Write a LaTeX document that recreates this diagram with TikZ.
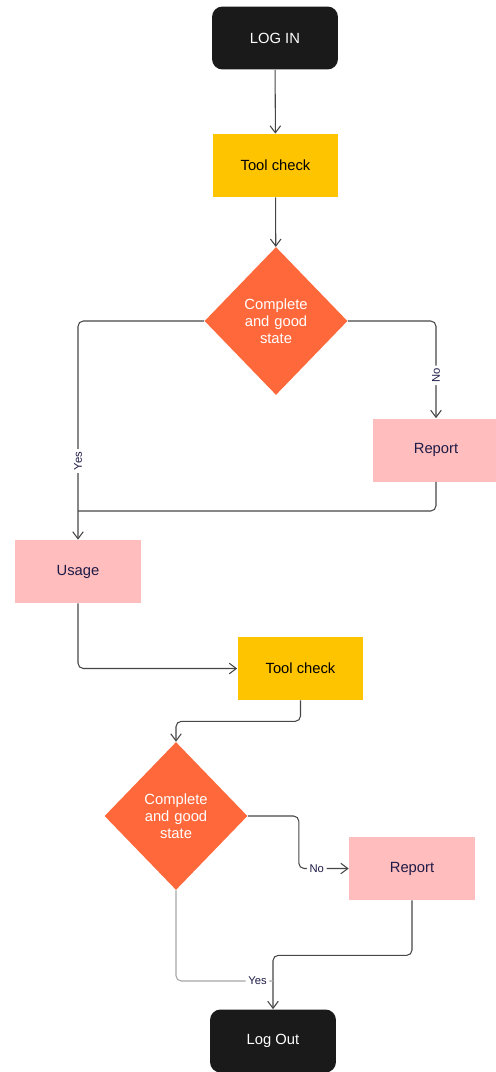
\documentclass[tikz,border=0pt]{standalone}
\usepackage{fontspec}
\setmainfont{Liberation Sans}
\usepackage{xcolor}
\usepackage{tikz}
\usetikzlibrary{arrows.meta, positioning, shapes.geometric, calc}
\definecolor{termblack}{RGB}{26, 26, 26}
\definecolor{checkyellow}{RGB}{255, 196, 0}
\definecolor{decorange}{RGB}{255, 104, 59}
\definecolor{reportpink}{RGB}{255, 189, 189}
\definecolor{inkblue}{RGB}{30, 26, 70}
\definecolor{linegray}{RGB}{70, 70, 70}

\begin{document}
\begin{tikzpicture}[
  x=0.02cm, y=-0.02cm,
  font=\fontsize{8.4}{9.6}\selectfont,
  terminal/.style={rectangle, rounded corners=6pt, fill=termblack,
                   text=white, minimum width=2.52cm, minimum height=1.26cm},
  process/.style={rectangle, fill=#1, minimum width=2.52cm,
                  minimum height=1.26cm, inner sep=2pt},
  decision/.style={diamond, fill=decorange, text=white, inner sep=0pt,
                   minimum width=2.86cm, minimum height=2.96cm,
                   align=center, text width=1.5cm},
  arrow/.style={-{Straight Barb[length=4pt, width=6pt]}, line width=0.6pt,
                color=linegray, rounded corners=3pt},
  line/.style={line width=0.6pt, color=linegray, rounded corners=3pt},
  label/.style={font=\fontsize{6.4}{7}\selectfont, text=inkblue,
                fill=white, inner sep=1.5pt},
]
\useasboundingbox (0,0) rectangle (496,1072);

% Nodes
\node[terminal] (login) at (275,38) {LOG IN};
\node[process=checkyellow] (check1) at (275.5,165.5) {Tool check};
\node[decision] (dec1) at (276,321) {Complete\\and good\\state};
\node[process=reportpink, text=inkblue] (report1) at (436,450) {Report};
\node[process=reportpink, text=inkblue] (usage) at (78,571.5) {Usage};
\node[process=checkyellow] (check2) at (300.5,668.5) {Tool check};
\node[decision] (dec2) at (176,816) {Complete\\and good\\state};
\node[process=reportpink, text=inkblue] (report2) at (412,868.5) {Report};
\node[terminal] (logout) at (273,1041) {Log Out};

% Merge points
\coordinate (join1) at (78,511);
\coordinate (join2) at (273,981);

% First check
\draw[arrow] (login) -- (check1);
\draw[arrow] (check1) -- (dec1);
\draw[arrow] (dec1.west) -| node[pos=0.82, label, rotate=90] {Yes}
  (usage.north);
\draw[arrow] (dec1.east) -| node[pos=0.78, label, rotate=90] {No}
  (report1.north);
\draw[line] (report1.south) |- (join1);

% Usage and second check
\draw[arrow] (usage.south) |- (check2.west);
\draw[arrow] (check2.south) -- ++(0,21) -| (dec2.north);
\draw[arrow] (dec2.east) -- ++(51,0) |- node[pos=0.68, label] {No}
  (report2.west);
\draw[arrow] (report2.south) -- ++(0,55) -| (logout.north);
\draw[line, color=gray!70] (dec2.south) |- node[pos=0.92, label] {Yes}
  (join2);

\end{tikzpicture}
\end{document}
